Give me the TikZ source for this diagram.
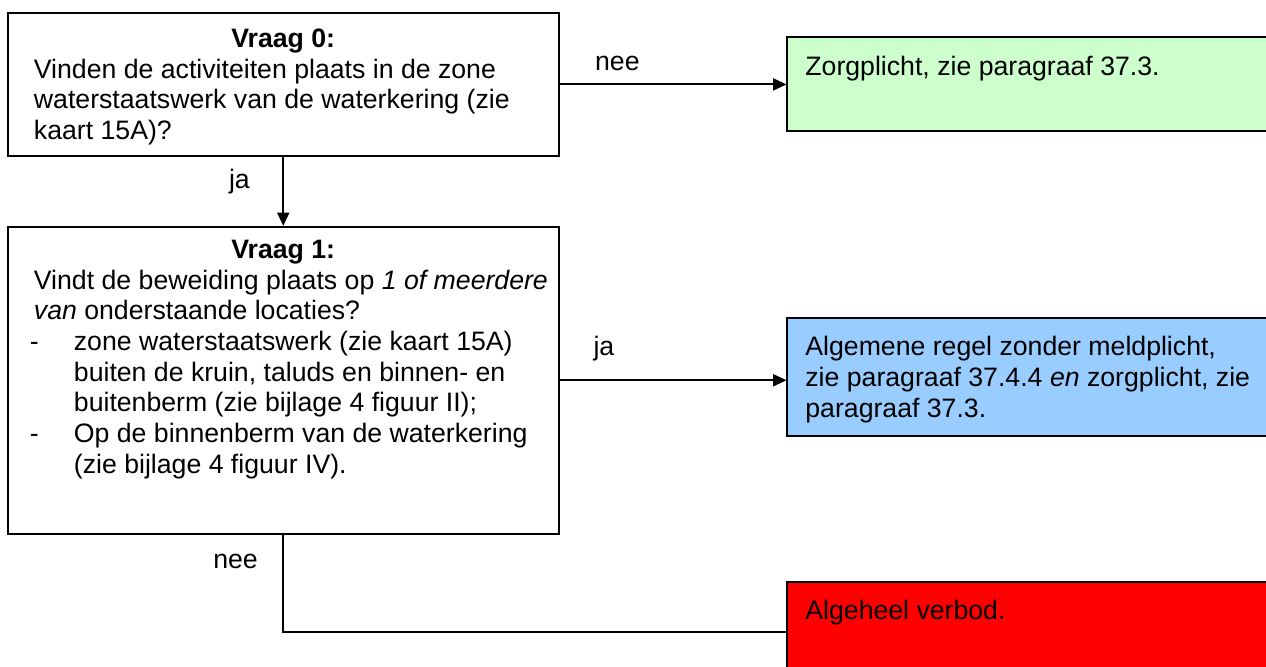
\documentclass[tikz,border=0pt]{standalone}
\usepackage{fontspec}
\setmainfont{Liberation Sans}
\usetikzlibrary{positioning,arrows.meta}

\newcommand{\locatie}[1]{\par\hangindent=15pt\hangafter=1\noindent
	\makebox[15pt][l]{\hspace{-1.5pt}-}#1\par}

\begin{document}
\begin{tikzpicture}[font=\fontsize{10pt}{11.5pt}\selectfont, node distance = 25.9pt,
	block/.style = { rectangle, draw=black, line width=0.7pt, fill=white,
	inner xsep=9.75pt, inner ysep=6pt},
	uitkomst/.style = { block, inner xsep=6.75pt, inner ysep=7pt},
	pijl/.style = { line width=0.7pt, -{Triangle[length=5pt,width=4.5pt]} },
	antwoord/.style = { inner sep=0pt } ]

  \useasboundingbox (0,0) rectangle (474.75pt,-249.75pt);

  \node [name=vraag0, block, anchor=north west] at (2.625pt,-4.5pt)
	{\parbox[c][41.6pt][t]{187pt}{\centering\textbf{Vraag 0:}\par\raggedright
	Vinden de activiteiten plaats in de zone\\
	waterstaatswerk van de waterkering (zie\\
	kaart 15A)?}};
  \node [name=vraag1, block, inner ysep=5pt, below=of vraag0]
	{\parbox[c][105.1pt][t]{187pt}{\centering\textbf{Vraag 1:}\par\raggedright
	\mbox{Vindt de beweiding plaats op \textit{1 of meerdere}}\\
	\textit{van} onderstaande locaties?
	\locatie{zone waterstaatswerk (zie kaart 15A)\newline
	buiten de kruin, taluds en binnen- en\newline
	buitenberm (zie bijlage 4 figuur II);}
	\locatie{Op de binnenberm van de waterkering\newline
	(zie bijlage 4 figuur IV).}}};

  \node [name=zorg, uitkomst, fill={rgb,255:red,204;green,255;blue,204},
	right=85.1pt of vraag0]
	{\parbox[c][21.25pt][t]{168.4pt}{Zorgplicht, zie paragraaf 37.3.}};
  \node [name=regel, uitkomst, fill={rgb,255:red,153;green,204;blue,255},
	right=85.1pt of vraag1, yshift=1.3pt]
	{\parbox[c][30.25pt][t]{168.4pt}{Algemene regel zonder meldplicht,\\
	zie paragraaf 37.4.4 \textit{en} zorgplicht, zie\\
	paragraaf 37.3.}};
  \node [name=verbod, uitkomst, fill=red,
	below right=17.25pt and 85.1pt of vraag1.south east]
	{\parbox[c][23.5pt][t]{168.4pt}{Algeheel verbod.}};

  \draw [pijl] (vraag0.east) -- (vraag0.east -| zorg.west)
	node [antwoord, pos=0, anchor=base west, xshift=13pt, yshift=5.25pt] {nee};
  \draw [pijl] (vraag0.south) -- (vraag1.north)
	node [antwoord, pos=0, anchor=base east, xshift=-12.2pt, yshift=-12pt] {ja};
  \draw [pijl] (vraag1.east) -- (vraag1.east -| regel.west)
	node [antwoord, pos=0, anchor=base west, xshift=12.4pt, yshift=9.4pt] {ja};
  \draw [line width=0.7pt] (vraag1.south) |- (verbod.west)
	node [antwoord, pos=0, anchor=base east, xshift=-9.2pt, yshift=-12.75pt] {nee};
\end{tikzpicture}
\end{document}
